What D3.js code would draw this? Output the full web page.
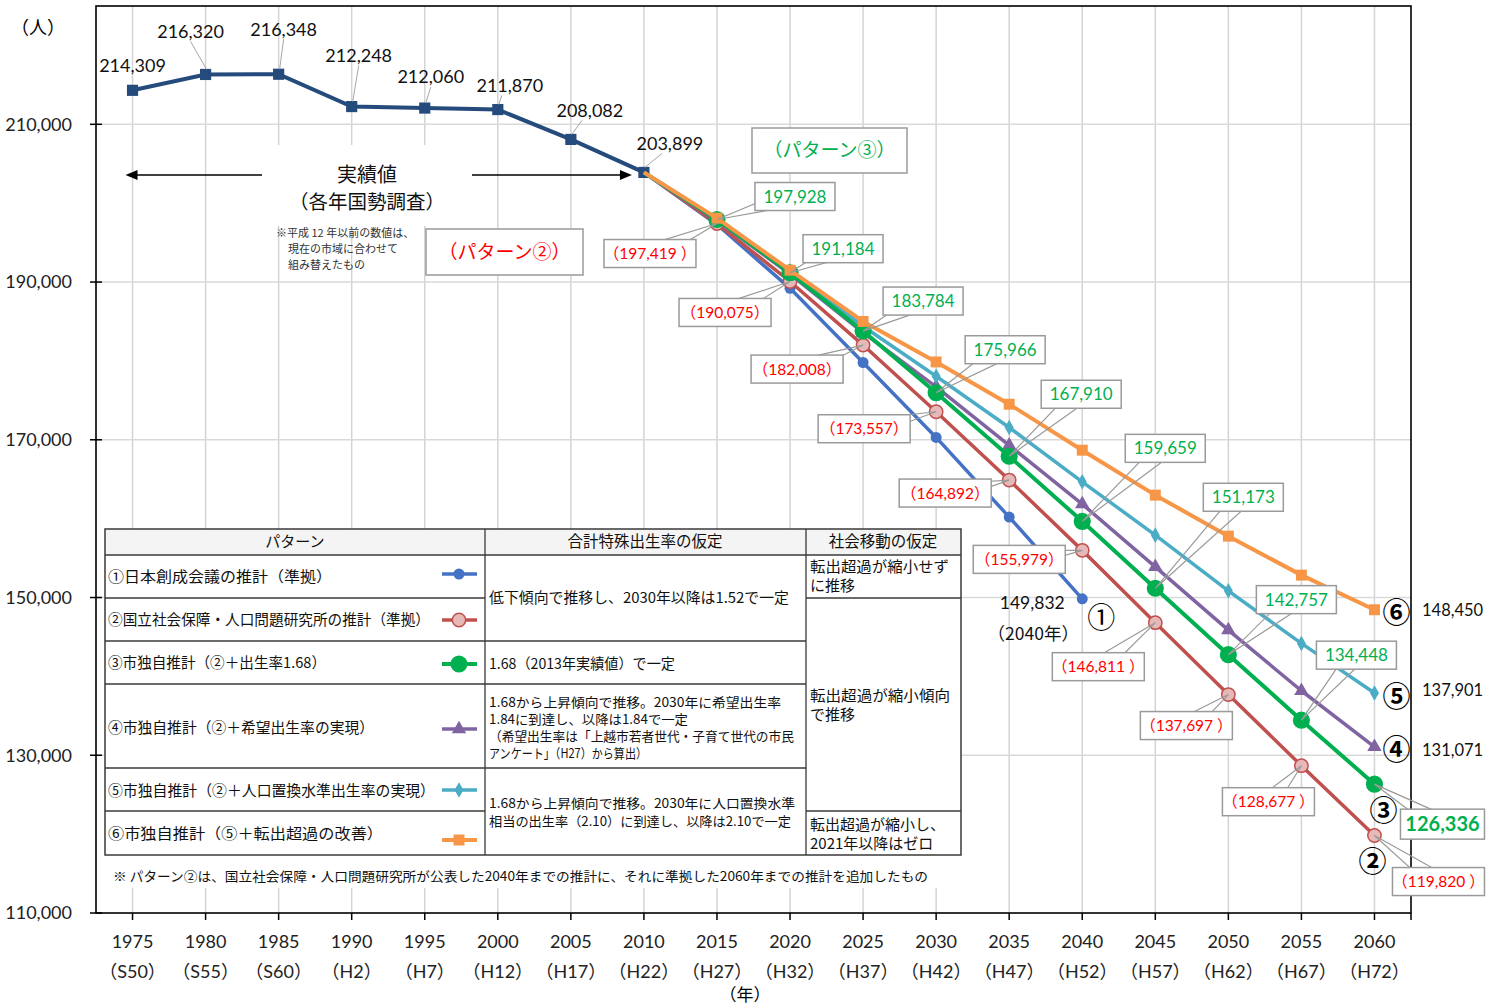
<!DOCTYPE html>
<html>
<head>
<meta charset="utf-8">
<script src="https://cdn.jsdelivr.net/npm/d3@7"></script>
<style>
body { margin: 0; background: #fff; }
text { font-family: Lato, "Noto Sans CJK JP", sans-serif; }
.jp { font-family: "Noto Sans CJK JP", sans-serif; }
</style>
</head>
<body>
<svg width="1486" height="1008"></svg>
<script>
// 年と和暦
var years = [1975, 1980, 1985, 1990, 1995, 2000, 2005, 2010, 2015, 2020, 2025, 2030, 2035, 2040, 2045, 2050, 2055, 2060];
var eraLabels = ["（S50）", "（S55）", "（S60）", "（H2）", "（H7）", "（H12）", "（H17）", "（H22）", "（H27）", "（H32）",
                 "（H37）", "（H42）", "（H47）", "（H52）", "（H57）", "（H62）", "（H67）", "（H72）"];
var yTicks = [110000, 130000, 150000, 170000, 190000, 210000];

// 実績値 1975-2010
var actual = [214309, 216320, 216348, 212248, 212060, 211870, 208082, 203899];

// 推計 2010-2060
var projYears = [2010, 2015, 2020, 2025, 2030, 2035, 2040, 2045, 2050, 2055, 2060];
var p1 = [203899, 197300, 189200, 179800, 170300, 160200, 149832];
var p2 = [203899, 197419, 190075, 182008, 173557, 164892, 155979, 146811, 137697, 128677, 119820];
var p3 = [203899, 197928, 191184, 183784, 175966, 167910, 159659, 151173, 142757, 134448, 126336];
var p4 = [203899, 197800, 191000, 183600, 176700, 169300, 161840, 153890, 145870, 138180, 131071];
var p5 = [203899, 198000, 191400, 184400, 178060, 171560, 164670, 157910, 150850, 144180, 137901];
var p6 = [203899, 198100, 191500, 185000, 179870, 174510, 168680, 162980, 157780, 152840, 148450];

// 表の中身
var patternNames = ["①日本創成会議の推計（準拠）", "②国立社会保障・人口問題研究所の推計（準拠）", "③市独自推計（②＋出生率1.68）",
                    "④市独自推計（②＋希望出生率の実現）", "⑤市独自推計（②＋人口置換水準出生率の実現）", "⑥市独自推計（⑤＋転出超過の改善）"];

var svg = d3.select("svg");
var x = d3.scalePoint().domain(years).range([96, 1411]).padding(0.5);
var y = d3.scaleLinear().domain([110000, 225000]).range([913, 6]);
var fmt = d3.format(",");

// 色と記号
var series = [
    { key: "p1", vals: p1, color: "#4472c4", fill: "#4472c4", stroke: "none", sym: d3.symbolCircle, size: 95, w: 3.5 },
    { key: "p2", vals: p2, color: "#c0504d", fill: "#e6b9b8", stroke: "#c0504d", sym: d3.symbolCircle, size: 140, w: 3.5 },
    { key: "p4", vals: p4, color: "#8064a2", fill: "#8064a2", stroke: "none", sym: d3.symbolTriangle, size: 90, w: 3.5 },
    { key: "p5", vals: p5, color: "#4bacc6", fill: "#4bacc6", stroke: "none", sym: d3.symbolDiamond, size: 70, w: 3.5 },
    { key: "p3", vals: p3, color: "#00b050", fill: "#00b050", stroke: "none", sym: d3.symbolCircle, size: 230, w: 4 },
    { key: "p6", vals: p6, color: "#f79646", fill: "#f79646", stroke: "none", sym: d3.symbolSquare, size: 120, w: 4 }
];
var byKey = {};
series.forEach(function(s) { byKey[s.key] = s; });

// グリッド
svg.append("g").selectAll("line").data(years).enter().append("line")
    .attr("x1", d => x(d)).attr("x2", d => x(d))
    .attr("y1", y(225000)).attr("y2", y(110000))
    .attr("stroke", "#d4d4d4").attr("stroke-width", 1.5);
svg.append("g").selectAll("line").data(yTicks.slice(1)).enter().append("line")
    .attr("x1", 96).attr("x2", 1411)
    .attr("y1", d => y(d)).attr("y2", d => y(d))
    .attr("stroke", "#d9d9d9").attr("stroke-width", 1.5);

// 実績値テキストの背景
svg.append("rect").attr("x", 265).attr("y", 145).attr("width", 205).attr("height", 81).attr("fill", "#fff");

// 枠と軸
svg.append("rect").attr("x", 96).attr("y", y(225000)).attr("width", 1315).attr("height", y(110000) - y(225000))
    .attr("fill", "none").attr("stroke", "#000").attr("stroke-width", 1.6);
svg.append("g").selectAll("line").data(yTicks).enter().append("line")
    .attr("x1", 90).attr("x2", 102).attr("y1", d => y(d)).attr("y2", d => y(d))
    .attr("stroke", "#000").attr("stroke-width", 1.5);
svg.append("g").selectAll("line").data(years.concat([0])).enter().append("line")
    .attr("x1", d => d ? x(d) : 1411).attr("x2", d => d ? x(d) : 1411)
    .attr("y1", 913).attr("y2", 920)
    .attr("stroke", "#000").attr("stroke-width", 1.5);

svg.append("g").selectAll("text").data(yTicks).enter().append("text")
    .attr("x", 72).attr("y", d => y(d)).attr("dy", "0.35em")
    .attr("text-anchor", "end").attr("font-size", 18).attr("fill", "#222")
    .text(d => fmt(d));
svg.append("text").attr("class", "jp").attr("x", 38).attr("y", 34).attr("text-anchor", "middle")
    .attr("font-size", 18).text("（人）");

var xl = svg.append("g");
xl.selectAll(".yr").data(years).enter().append("text")
    .attr("x", d => x(d)).attr("y", 948).attr("text-anchor", "middle")
    .attr("font-size", 18).attr("fill", "#222").text(d => d);
xl.selectAll(".era").data(years).enter().append("text")
    .attr("x", (d, i) => x(d)).attr("y", 978).attr("text-anchor", "middle")
    .attr("font-size", 18).attr("fill", "#222").text((d, i) => eraLabels[i]);
svg.append("text").attr("class", "jp").attr("x", 745).attr("y", 1001).attr("text-anchor", "middle")
    .attr("font-size", 17).text("（年）");

// 表（白背景）
var tbl = svg.append("g");
tbl.append("rect").attr("x", 105).attr("y", 529).attr("width", 856).attr("height", 359).attr("fill", "#fff");
tbl.append("rect").attr("x", 105).attr("y", 529).attr("width", 856).attr("height", 26).attr("fill", "#f4f4f4");

function hline(y0, x0, x1) {
    tbl.append("line").attr("x1", x0).attr("x2", x1).attr("y1", y0).attr("y2", y0)
        .attr("stroke", "#3a3a3a").attr("stroke-width", 1.3);
}
tbl.append("rect").attr("x", 105).attr("y", 529).attr("width", 856).attr("height", 326)
    .attr("fill", "none").attr("stroke", "#3a3a3a").attr("stroke-width", 1.5);
[485, 806].forEach(function(cx) {
    tbl.append("line").attr("x1", cx).attr("x2", cx).attr("y1", 529).attr("y2", 855)
        .attr("stroke", "#3a3a3a").attr("stroke-width", 1.3);
});
hline(555, 105, 961);
[598, 641, 684, 768, 811].forEach(r => hline(r, 105, 485));
[641, 684, 768].forEach(r => hline(r, 485, 806));
[598, 811].forEach(r => hline(r, 806, 961));

function tx(t, xx, yy, size, anchor) {
    return tbl.append("text").attr("class", "jp").attr("x", xx).attr("y", yy)
        .attr("font-size", size).attr("fill", "#111").attr("text-anchor", anchor || "start").text(t);
}
tx("パターン", 295, 547, 15, "middle");
tx("合計特殊出生率の仮定", 645, 547, 15.5, "middle");
tx("社会移動の仮定", 883, 547, 15.5, "middle");

var nameY = [582, 625, 668, 733, 796, 839];
var nameLen = [224, 322, 218, 266, 327, 275];
patternNames.forEach(function(n, i) {
    tx(n, 108, nameY[i], 15).attr("textLength", nameLen[i]).attr("lengthAdjust", "spacingAndGlyphs");
});

tx("低下傾向で推移し、2030年以降は1.52で一定", 489, 603, 14.5).attr("textLength", 300).attr("lengthAdjust", "spacingAndGlyphs");
tx("1.68（2013年実績値）で一定", 489, 669, 14.5).attr("textLength", 186).attr("lengthAdjust", "spacingAndGlyphs");
tx("1.68から上昇傾向で推移。2030年に希望出生率", 489, 707, 13).attr("textLength", 292).attr("lengthAdjust", "spacingAndGlyphs");
tx("1.84に到達し、以降は1.84で一定", 489, 724, 13).attr("textLength", 199).attr("lengthAdjust", "spacingAndGlyphs");
tx("（希望出生率は「上越市若者世代・子育て世代の市民", 489, 741, 13).attr("textLength", 305).attr("lengthAdjust", "spacingAndGlyphs");
tx("アンケート」（H27）から算出）", 489, 758, 13).attr("textLength", 158).attr("lengthAdjust", "spacingAndGlyphs");
tx("1.68から上昇傾向で推移。2030年に人口置換水準", 489, 808, 13).attr("textLength", 306).attr("lengthAdjust", "spacingAndGlyphs");
tx("相当の出生率（2.10）に到達し、以降は2.10で一定", 489, 826, 13).attr("textLength", 302).attr("lengthAdjust", "spacingAndGlyphs");
tx("転出超過が縮小せず", 810, 572, 15).attr("textLength", 139).attr("lengthAdjust", "spacingAndGlyphs");
tx("に推移", 810, 591, 15);
tx("転出超過が縮小傾向", 810, 701, 15).attr("textLength", 140).attr("lengthAdjust", "spacingAndGlyphs");
tx("で推移", 810, 720, 15);
tx("転出超過が縮小し、", 810, 830, 15);
tx("2021年以降はゼロ", 810, 849, 15);
tx("※ パターン②は、国立社会保障・人口問題研究所が公表した2040年までの推計に、それに準拠した2060年までの推計を追加したもの", 113, 881, 13)
    .attr("textLength", 815).attr("lengthAdjust", "spacingAndGlyphs");

// 凡例記号
var legendOrder = ["p1", "p2", "p3", "p4", "p5", "p6"];
var legY = [574, 620, 664, 729, 790, 840];
legendOrder.forEach(function(k, i) {
    var s = byKey[k];
    tbl.append("line").attr("x1", 442).attr("x2", 477).attr("y1", legY[i]).attr("y2", legY[i])
        .attr("stroke", s.color).attr("stroke-width", s.w);
    tbl.append("path").attr("d", d3.symbol(s.sym, s.size)())
        .attr("transform", "translate(459," + legY[i] + ")")
        .attr("fill", s.fill).attr("stroke", s.stroke).attr("stroke-width", 1.5);
});

// 線
var line = d3.line().x(d => x(d.year)).y(d => y(d.v));
var actualData = actual.map((v, i) => ({ year: years[i], v: v }));
svg.append("path").datum(actualData).attr("d", line)
    .attr("fill", "none").attr("stroke", "#254a7c").attr("stroke-width", 4);
svg.append("g").selectAll("path").data(actualData).enter().append("path")
    .attr("d", d3.symbol(d3.symbolSquare, 125)())
    .attr("transform", d => "translate(" + x(d.year) + "," + y(d.v) + ")")
    .attr("fill", "#254a7c");

series.forEach(function(s) {
    var data = s.vals.map((v, i) => ({ year: projYears[i], v: v }));
    svg.append("path").datum(data).attr("d", line)
        .attr("fill", "none").attr("stroke", s.color).attr("stroke-width", s.w).attr("stroke-linejoin", "round");
    svg.append("g").selectAll("path").data(data.slice(1)).enter().append("path")
        .attr("d", d3.symbol(s.sym, s.size)())
        .attr("transform", d => "translate(" + x(d.year) + "," + y(d.v) + ")")
        .attr("fill", s.fill).attr("stroke", s.stroke).attr("stroke-width", 1.5);
});

// 実績値ラベル
var actOff = [[0, -25], [-15, -43], [5, -45], [7, -51], [6, -31], [12, -24], [19, -29], [26, -29]];
actualData.forEach(function(d, i) {
    var px = x(d.year), py = y(d.v);
    var lx = px + actOff[i][0], ly = py + actOff[i][1];
    if (i > 0) {
        svg.append("line").attr("x1", lx + (i > 4 ? -8 : 0)).attr("y1", ly + 10).attr("x2", px + 1).attr("y2", py - 5)
            .attr("stroke", "#a6a6a6").attr("stroke-width", 1);
    }
    svg.append("text").attr("x", lx).attr("y", ly).attr("dy", "0.35em").attr("text-anchor", "middle")
        .attr("font-size", 18).attr("fill", "#111").text(fmt(d.v));
});

// 吹き出しラベル
function callout(px, py, cx, cy, w, h, label, color, size, bold) {
    var dx = px - cx, dy = py - cy, len = Math.sqrt(dx * dx + dy * dy);
    var nx = -dy / len * 9, ny = dx / len * 9;
    svg.append("path")
        .attr("d", "M" + (cx + nx) + "," + (cy + ny) + "L" + px + "," + py + "L" + (cx - nx) + "," + (cy - ny))
        .attr("fill", "none").attr("stroke", "#9a9a9a").attr("stroke-width", 1.2);
    svg.append("rect").attr("x", cx - w / 2).attr("y", cy - h / 2).attr("width", w).attr("height", h)
        .attr("fill", "#fff").attr("stroke", "#9a9a9a").attr("stroke-width", 1.5);
    svg.append("text").attr("x", cx).attr("y", cy).attr("dy", "0.36em").attr("text-anchor", "middle")
        .attr("font-size", size).attr("font-weight", bold ? "bold" : "normal").attr("fill", color).text(label);
}

var p3Off = [[78, -23], [53, -24], [60, -30], [69, -43], [72, -62], [83, -73], [88, -91], [68, -55], [55, -65], [68, 40]];
var p2Off = [[-67, 30], [-65, 31], [-66, 24], [-72, 17], [-64, 13], [-63, 9], [-57, 44], [-42, 31], [-33, 36], [64, 46]];
var p2Space = [true, false, false, false, false, false, true, true, true, true];

p2.slice(1).forEach(function(v, i) {
    var px = x(projYears[i + 1]), py = y(v);
    callout(px, py, px + p2Off[i][0], py + p2Off[i][1], 92, 28,
        "（" + fmt(v) + (p2Space[i] ? " " : "") + "）", "#ff0000", 15.5, false);
});
p3.slice(1).forEach(function(v, i) {
    var px = x(projYears[i + 1]), py = y(v);
    var last = i === 9;
    callout(px, py, px + p3Off[i][0], py + p3Off[i][1], last ? 84 : 80, last ? 30 : 28,
        fmt(v), "#00b050", last ? 20 : 17, last);
});

// パターン見出し
function tagBox(x0, y0, w, h, t, color) {
    svg.append("rect").attr("x", x0).attr("y", y0).attr("width", w).attr("height", h)
        .attr("fill", "#fff").attr("stroke", "#9a9a9a").attr("stroke-width", 1.5);
    svg.append("text").attr("class", "jp").attr("x", x0 + w / 2).attr("y", y0 + h / 2).attr("dy", "0.36em")
        .attr("text-anchor", "middle").attr("font-size", 19).attr("fill", color).text(t);
}
tagBox(752, 128, 155, 45, "（パターン③）", "#00b050");
tagBox(426, 229, 157, 46, "（パターン②）", "#ff0000");

// 実績値の注記
svg.append("text").attr("class", "jp").attr("x", 367).attr("y", 182).attr("text-anchor", "middle")
    .attr("font-size", 20).attr("fill", "#111").text("実績値");
svg.append("text").attr("class", "jp").attr("x", 367).attr("y", 209).attr("text-anchor", "middle")
    .attr("font-size", 19.5).attr("fill", "#111").text("（各年国勢調査）");
var ay = 175, lt = x(1975) - 7, rt = x(2010) - 12;
svg.append("line").attr("x1", lt + 10).attr("x2", 262).attr("y1", ay).attr("y2", ay).attr("stroke", "#000").attr("stroke-width", 1.4);
svg.append("line").attr("x1", 472).attr("x2", rt - 10).attr("y1", ay).attr("y2", ay).attr("stroke", "#000").attr("stroke-width", 1.4);
svg.append("path").attr("d", "M" + lt + "," + ay + "l12,-5v10z").attr("fill", "#000");
svg.append("path").attr("d", "M" + rt + "," + ay + "l-12,-5v10z").attr("fill", "#000");

[["※平成 12 年以前の数値は、", 276, 237], ["現在の市域に合わせて", 288, 253], ["組み替えたもの", 288, 269]].forEach(function(n) {
    svg.append("text").attr("class", "jp").attr("x", n[1]).attr("y", n[2]).attr("font-size", 11)
        .attr("fill", "#333").text(n[0]);
});

// 右端の番号と値
function circ(t, xx, yy, size, bold) {
    svg.append("text").attr("class", "jp").attr("x", xx).attr("y", yy).attr("dy", "0.36em").attr("text-anchor", "middle")
        .attr("font-size", size).attr("font-weight", bold ? "bold" : "normal").attr("fill", "#000").text(t);
}
var end1 = y(p1[p1.length - 1]);
circ("①", x(2040) + 19, end1 + 19, 28, false);
svg.append("text").attr("x", x(2040) - 50).attr("y", end1 + 10).attr("text-anchor", "middle")
    .attr("font-size", 17.5).attr("fill", "#111").text(fmt(p1[p1.length - 1]));
svg.append("text").attr("class", "jp").attr("x", x(2040) - 49).attr("y", end1 + 41).attr("text-anchor", "middle")
    .attr("font-size", 17.5).attr("fill", "#111").text("（2040年）");

var xe = x(2060);
circ("⑥", xe + 22, y(p6[10]) + 3, 28, true);
circ("⑤", xe + 22, y(p5[10]) + 4, 28, true);
circ("④", xe + 22, y(p4[10]) + 3, 28, true);
circ("③", xe + 9, y(p3[10]) + 27, 28, true);
circ("②", xe - 2, y(p2[10]) + 26, 28, true);
[[p6[10], 0], [p5[10], -3], [p4[10], 3]].forEach(function(d) {
    svg.append("text").attr("x", 1422).attr("y", y(d[0]) + d[1]).attr("dy", "0.35em")
        .attr("font-size", 16.5).attr("fill", "#111").text(fmt(d[0]));
});
</script>
</body>
</html>
